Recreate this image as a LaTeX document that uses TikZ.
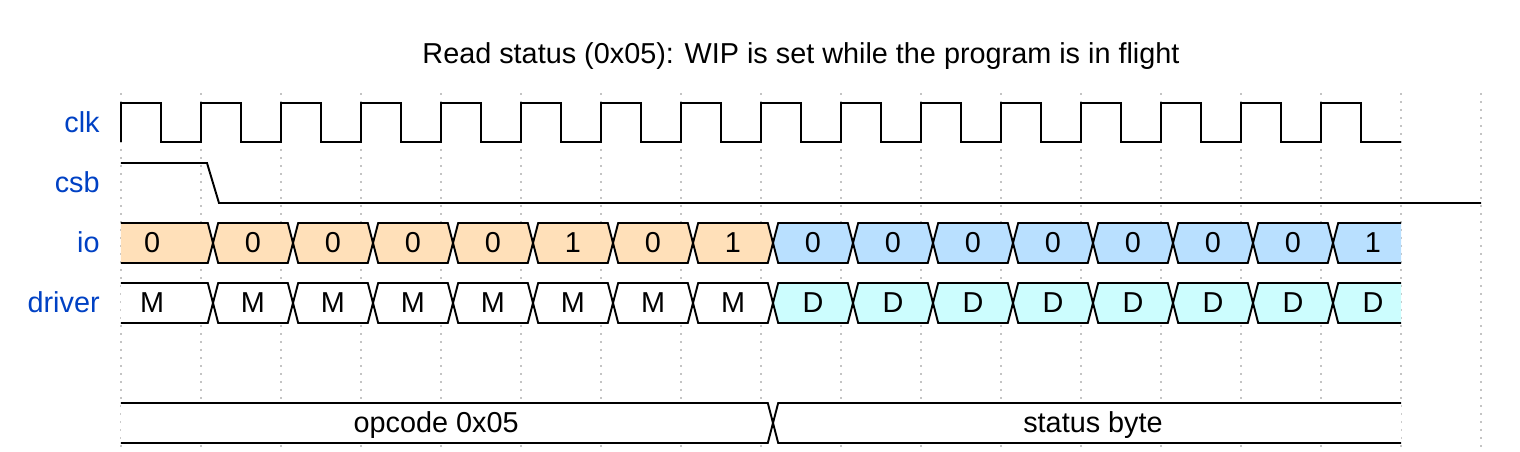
\documentclass[tikz,border=0pt]{standalone}
\usepackage{fontspec}
\setmainfont{Liberation Sans}
\definecolor{namecolor}{RGB}{0,65,196}
\definecolor{opcodeorange}{RGB}{255,224,185}
\definecolor{statusblue}{RGB}{185,224,255}
\definecolor{drivecyan}{RGB}{204,253,254}
\definecolor{gridgray}{RGB}{196,196,196}

\begin{document}
\begin{tikzpicture}[x=1.6cm, y=1cm, font=\fontsize{16.4}{19.7}\selectfont,
    wave/.style={line width=1.1pt},
    gridline/.style={gridgray, line width=1.1pt, dash pattern=on 0.04cm off 0.12cm},
    signame/.style={namecolor, anchor=base east, inner sep=0pt},
    value/.style={anchor=base, inner sep=0pt}]

    \useasboundingbox (-1.5125,0) rectangle (17.4875,-9.04);

    % Título
    \node[value] (title) at (8.5,-1.28) {Read status (0x05): WIP is set while the program is in flight};

    % Rejilla
    \foreach \t in {0,...,17} {
        \draw[gridline] (\t,-1.86) -- (\t,-8.94);
    }

    % Nombres de señales
    \foreach \y/\name in {-2.66/clk, -3.86/csb, -5.06/io, -6.26/driver} {
        \node[signame] (name-\name) at (-0.2625,\y) {\name};
    }

    % Reloj
    \draw[wave] (0,-2.84) foreach \k in {0,...,15} { -- (\k,-2.06) -- (\k+0.5,-2.06) -- (\k+0.5,-2.84) -- (\k+1,-2.84) };

    % Selección de chip
    \draw[wave] (0,-3.26) -- (1.075,-3.26) -- (1.225,-4.06) -- (17,-4.06);

    % Primer ciclo
    \fill[opcodeorange] (0,-4.46) -- (1.085,-4.46) -- (1.15,-4.86) -- (1.085,-5.26) -- (0,-5.26) -- cycle;
    \draw[wave] (0,-4.46) -- (1.085,-4.46) -- (1.15,-4.86) -- (1.085,-5.26) -- (0,-5.26);
    \node[value] (io0) at (0.39,-5.06) {0};
    \fill[white] (0,-5.66) -- (1.085,-5.66) -- (1.15,-6.06) -- (1.085,-6.46) -- (0,-6.46) -- cycle;
    \draw[wave] (0,-5.66) -- (1.085,-5.66) -- (1.15,-6.06) -- (1.085,-6.46) -- (0,-6.46);
    \node[value] (drv0) at (0.39,-6.26) {M};

    % Bits de io y quién maneja la línea
    \foreach \k/\bit/\fc/\drv/\dc in {1/0/opcodeorange/M/white, 2/0/opcodeorange/M/white,
            3/0/opcodeorange/M/white, 4/0/opcodeorange/M/white, 5/1/opcodeorange/M/white,
            6/0/opcodeorange/M/white, 7/1/opcodeorange/M/white, 8/0/statusblue/D/drivecyan,
            9/0/statusblue/D/drivecyan, 10/0/statusblue/D/drivecyan, 11/0/statusblue/D/drivecyan,
            12/0/statusblue/D/drivecyan, 13/0/statusblue/D/drivecyan, 14/0/statusblue/D/drivecyan} {
        \filldraw[wave, fill=\fc] (\k+0.15,-4.86) -- (\k+0.215,-4.46) -- (\k+1.085,-4.46) -- (\k+1.15,-4.86) -- (\k+1.085,-5.26) -- (\k+0.215,-5.26) -- cycle;
        \node[value] (io\k) at (\k+0.65,-5.06) {\bit};
        \filldraw[wave, fill=\dc] (\k+0.15,-6.06) -- (\k+0.215,-5.66) -- (\k+1.085,-5.66) -- (\k+1.15,-6.06) -- (\k+1.085,-6.46) -- (\k+0.215,-6.46) -- cycle;
        \node[value] (drv\k) at (\k+0.65,-6.26) {\drv};
    }

    % Último ciclo
    \fill[statusblue] (15.15,-4.86) -- (15.215,-4.46) -- (16,-4.46) -- (16,-5.26) -- (15.215,-5.26) -- cycle;
    \draw[wave] (16,-4.46) -- (15.215,-4.46) -- (15.15,-4.86) -- (15.215,-5.26) -- (16,-5.26);
    \node[value] (io15) at (15.65,-5.06) {1};
    \fill[drivecyan] (15.15,-6.06) -- (15.215,-5.66) -- (16,-5.66) -- (16,-6.46) -- (15.215,-6.46) -- cycle;
    \draw[wave] (16,-5.66) -- (15.215,-5.66) -- (15.15,-6.06) -- (15.215,-6.46) -- (16,-6.46);
    \node[value] (drv15) at (15.65,-6.26) {D};

    % Fases de la transacción
    \fill[white] (0,-8.06) -- (8.085,-8.06) -- (8.15,-8.46) -- (8.085,-8.86) -- (0,-8.86) -- cycle;
    \draw[wave] (0,-8.06) -- (8.085,-8.06) -- (8.15,-8.46) -- (8.085,-8.86) -- (0,-8.86);
    \node[value] (opcode) at (3.94,-8.66) {opcode 0x05};
    \fill[white] (8.15,-8.46) -- (8.215,-8.06) -- (16,-8.06) -- (16,-8.86) -- (8.215,-8.86) -- cycle;
    \draw[wave] (16,-8.06) -- (8.215,-8.06) -- (8.15,-8.46) -- (8.215,-8.86) -- (16,-8.86);
    \node[value] (status) at (12.15,-8.66) {status byte};
\end{tikzpicture}
\end{document}
